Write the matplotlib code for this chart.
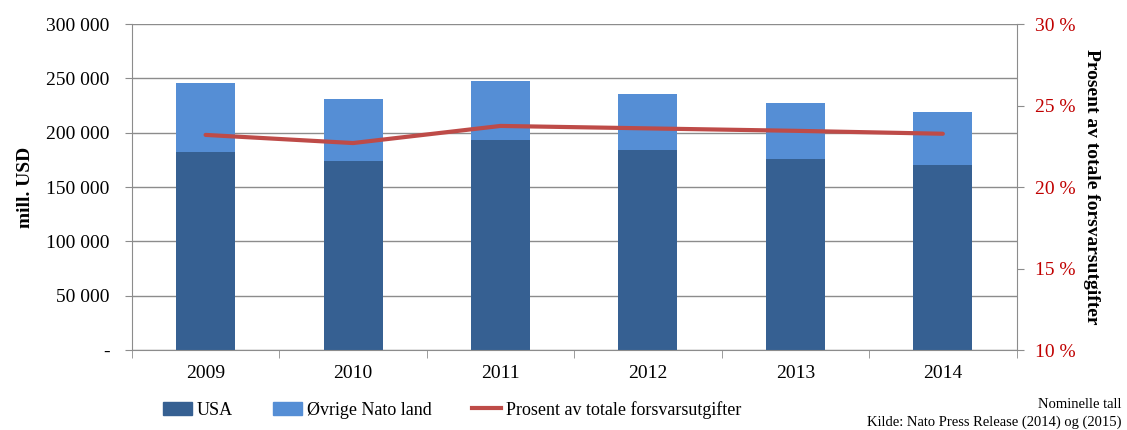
import matplotlib.pyplot as plt
import numpy as np
from matplotlib.ticker import FuncFormatter, MultipleLocator

plt.rcParams['font.family'] = ['Liberation Serif', 'DejaVu Serif']

years = ['2009', '2010', '2011', '2012', '2013', '2014']
usa = [182500, 173600, 193500, 183800, 175800, 170000]
total = [245400, 230700, 247800, 235300, 227000, 218700]
ovrige = [t - u for t, u in zip(total, usa)]
prosent = [23.2, 22.7, 23.75, 23.6, 23.45, 23.27]

c_usa = '#366092'
c_ovr = '#558ED5'
c_line = '#BE4B48'
c_grid = '#8C8C8C'

fig = plt.figure(figsize=(11.27, 4.30), dpi=100)
ax = fig.add_axes([0.117, 0.186, 0.785, 0.758])
x = np.arange(len(years))

ax.bar(x, usa, width=0.4, color=c_usa, zorder=2)
ax.bar(x, ovrige, width=0.4, bottom=usa, color=c_ovr, zorder=2)

ax.set_xlim(-0.5, len(years) - 0.5)
ax.set_ylim(0, 300000)
ax.yaxis.set_major_locator(MultipleLocator(50000))
ax.yaxis.set_major_formatter(FuncFormatter(
    lambda v, p: '-' if v == 0 else f'{int(v):,}'.replace(',', ' ')))
ax.grid(axis='y', color=c_grid, linewidth=1, zorder=0)
ax.set_xticks(x)
ax.set_xticklabels(years)
ax.set_xticks(np.arange(-0.5, len(years)), minor=True)
ax.tick_params(axis='x', which='major', length=0, labelsize=14, pad=11)
ax.tick_params(axis='x', which='minor', length=6, color=c_grid)
ax.tick_params(axis='y', length=5, color=c_grid, labelsize=14, pad=11)
for s in ['top', 'right']:
    ax.spines[s].set_visible(False)
for s in ['left', 'bottom']:
    ax.spines[s].set_color(c_grid)
ax.set_ylabel('mill. USD', fontsize=14, fontweight='bold', labelpad=9)

ax2 = ax.twinx()
ax2.plot(x, prosent, color=c_line, linewidth=3, solid_capstyle='round', zorder=3)
ax2.set_ylim(10, 30)
ax2.yaxis.set_major_locator(MultipleLocator(5))
ax2.yaxis.set_major_formatter(FuncFormatter(lambda v, p: f'{int(v)} %'))
ax2.tick_params(axis='y', length=5, color=c_grid, labelsize=14,
                labelcolor='#C00000', pad=8)
for s in ['top', 'left', 'bottom']:
    ax2.spines[s].set_visible(False)
ax2.spines['right'].set_color(c_grid)
ax2.set_ylabel('Prosent av totale forsvarsutgifter', fontsize=14,
               fontweight='bold', rotation=-90, labelpad=18)

handles = [plt.Rectangle((0, 0), 1, 1, color=c_usa),
           plt.Rectangle((0, 0), 1, 1, color=c_ovr),
           plt.Line2D([0], [0], color=c_line, linewidth=3)]
fig.legend(handles, ['USA', 'Øvrige Nato land', 'Prosent av totale forsvarsutgifter'],
           loc='center left', bbox_to_anchor=(0.13, 0.047), ncol=3, frameon=False,
           fontsize=13, handlelength=1.6, handleheight=0.7, handletextpad=0.3,
           columnspacing=2.2)

fig.text(0.995, 0.06, 'Nominelle tall', ha='right', va='center', fontsize=10.5)
fig.text(0.995, 0.018, 'Kilde: Nato Press Release (2014) og (2015)', ha='right',
         va='center', fontsize=10.5)

fig.savefig('out.png', dpi=100)
